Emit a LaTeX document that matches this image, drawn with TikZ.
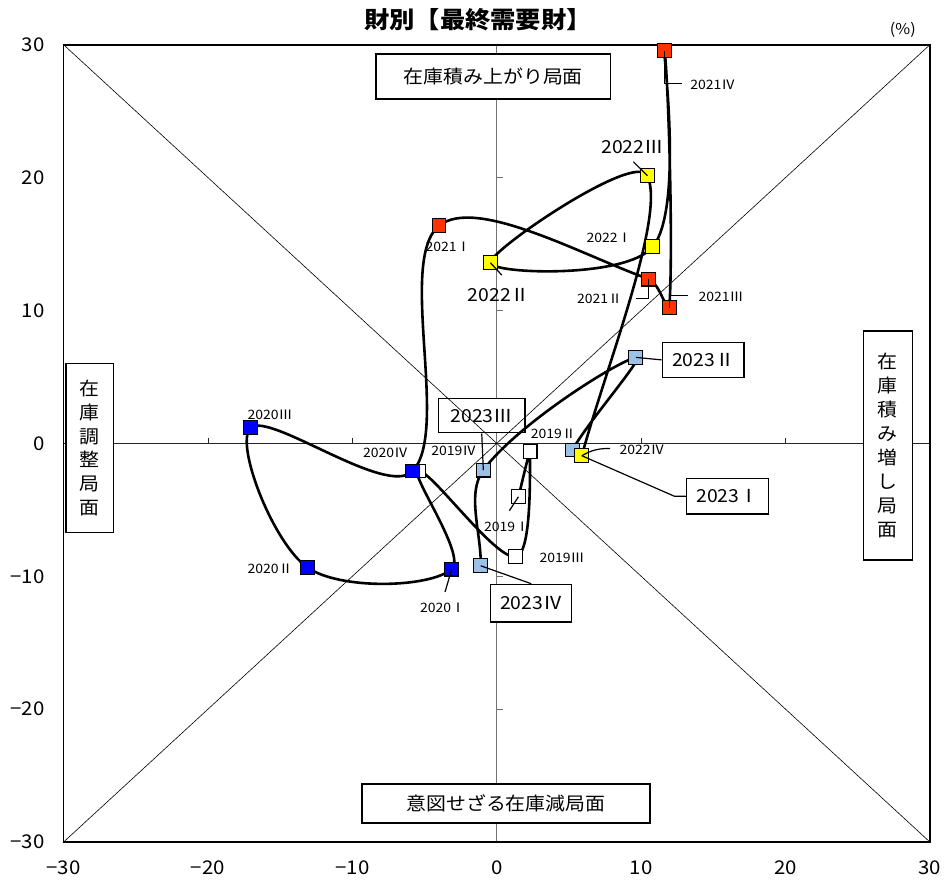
\documentclass[tikz,border=0pt]{standalone}
\usepackage{fontspec}
\setmainfont{Noto Sans CJK JP}[FakeStretch=1.08]
\usetikzlibrary{calc}
\definecolor{c19}{RGB}{255,255,255}
\definecolor{c20}{RGB}{0,0,255}
\definecolor{c21}{RGB}{255,51,0}
\definecolor{c22}{RGB}{255,255,0}
\definecolor{c23}{RGB}{155,194,230}

\begin{document}
\begin{tikzpicture}[x=14.44bp,y=13.29bp,
		sq/.style={draw=black,line width=1.1bp,minimum size=13.8bp,inner sep=0pt},
		tag/.style={inner sep=0pt,font=\fontsize{13}{13}\selectfont},
		bigtag/.style={inner sep=0pt,font=\fontsize{18}{18}\selectfont},
		callout/.style={draw=black,line width=1.4bp,fill=white,inner sep=0pt,font=\fontsize{18}{18}\selectfont},
		phase/.style={draw=black,line width=1.4bp,fill=white,inner sep=0pt,align=center,font=\fontsize{18.5}{24}\selectfont},
		leader/.style={line width=1.2bp},
		curve/.style={line width=2.6bp,line join=round}]
		\useasboundingbox (-34.40,-33.31) rectangle (31.11,33.36);
		
		\draw[black!55,line width=0.9bp] (0,-30) -- (0,30); %y axis
		\draw[black!85,line width=0.8bp] (-30,0) -- (30,0); %x axis
		\foreach \t in {-20,-10,10,20} { \draw[black!85,line width=0.8bp] (\t,0) -- (\t,0.38); } %x ticks
		\foreach \t in {-20,-10,10,20} { \draw[black!55,line width=0.9bp] (0,\t) -- (0.42,\t); } %y ticks
		
		\node[phase,minimum width=234.7bp,minimum height=45bp] (ptop) at (-0.24,27.60) {在庫積み上がり局面}; %top phase
		\node[phase,minimum width=288bp,minimum height=39bp] (pbot) at (0.64,-27.10) {意図せざる在庫減局面}; %bottom phase
		\node[phase,minimum width=47.3bp,minimum height=169.4bp] (pleft) at (-28.19,-0.35) {在\\庫\\調\\整\\局\\面}; %left phase
		\node[phase,minimum width=49bp,minimum height=229bp] (pright) at (27.08,-0.15) {在\\庫\\積\\み\\増\\し\\局\\面}; %right phase
		\node[callout,minimum width=86.7bp,minimum height=34.4bp] (b23c) at (-1.04,2.09) {2023Ⅲ};
		
		\draw[line width=0.6bp] (-30,-30) -- (30,30); %rising diagonal
		\draw[line width=0.6bp] (-30,30) -- (30,-30); %falling diagonal
		\draw[line width=1.8bp] (-30,-30) rectangle (30,30); %frame
		
		\foreach \v in {30,20,10,0,-10,-20,-30} { \node[anchor=east,inner sep=0pt,font=\fontsize{19}{19}\selectfont] (ty\v) at (-31.3,\v) {\ifnum\v<0 −\number-\v\else\v\fi}; }
		\foreach \v in {-30,-20,-10,0,10,20,30} { \node[inner sep=0pt,font=\fontsize{19}{19}\selectfont] (tx\v) at (\v,-31.96) {\ifnum\v<0 −\number-\v\else\v\fi}; }
		\node[inner sep=0pt,font=\fontsize{23.5}{23.5}\selectfont\bfseries] (title) at (-1.30,31.85) {財別【最終需要財】};
		\node[inner sep=0pt,font=\fontsize{15}{15}\selectfont] (unit) at (28.12,31.10) {(\%)};
		
		% quarters, sorted in time
		\coordinate (q19a) at (1.50,-4.02);
		\coordinate (q19b) at (2.31,-0.63);
		\coordinate (q19c) at (1.32,-8.53);
		\coordinate (q19d) at (-5.43,-2.08);
		\coordinate (q20a) at (-3.12,-9.46);
		\coordinate (q20b) at (-13.12,-9.33);
		\coordinate (q20c) at (-17.04,1.17);
		\coordinate (q20d) at (-5.82,-2.08);
		\coordinate (q21a) at (-4.00,16.37);
		\coordinate (q21b) at (10.53,12.36);
		\coordinate (q21c) at (11.95,10.20);
		\coordinate (q21d) at (11.61,29.54);
		\coordinate (q22a) at (10.80,14.79);
		\coordinate (q22b) at (-0.44,13.59);
		\coordinate (q22c) at (10.43,20.14);
		\coordinate (q22d) at (5.89,-0.93);
		\coordinate (q23a) at (5.24,-0.50);
		\coordinate (q23b) at (9.63,6.47);
		\coordinate (q23c) at (-0.93,-2.01);
		\coordinate (q23d) at (-1.11,-9.21);
		
		% smoothed path
		\draw[curve] (q19a) .. controls +(0.27,1.13) and +(0.02,0.46) .. (q19b)
			.. controls +(-0.04,-1.05) and +(1.16,0.22) .. (q19c)
			.. controls +(-1.42,-0.26) and +(0.82,0.17) .. (q19d)
			.. controls +(-0.66,-0.14) and +(1.07,1.01) .. (q20a)
			.. controls +(-1.50,-1.41) and +(2.27,-1.73) .. (q20b)
			.. controls +(-2.37,1.81) and +(-1.15,-1.14) .. (q20c)
			.. controls +(1.28,1.27) and +(-1.76,-2.05) .. (q20d)
			.. controls +(2.59,3.02) and +(-2.90,-2.57) .. (q21a)
			.. controls +(2.55,2.25) and +(-4.57,1.77) .. (q21b)
			.. controls +(0.75,-0.29) and +(-0.04,-0.69) .. (q21c)
			.. controls +(0.31,5.03) and +(0.21,-0.87) .. (q21d)
			.. controls +(-0.17,0.66) and +(2.20,2.90) .. (q22a)
			.. controls +(-1.82,-2.42) and +(0.06,-0.85) .. (q22b)
			.. controls +(-0.06,0.93) and +(-0.81,1.86) .. (q22c)
			.. controls +(1.30,-2.98) and +(1.66,6.63) .. (q22d)
			.. controls +(-0.06,-0.26) and +(-0.11,-0.22) .. (q23a)
			.. controls +(1.14,2.25) and +(0.76,0.19) .. (q23b)
			.. controls +(-1.30,-0.32) and +(2.38,3.48) .. (q23c)
			.. controls +(-1.20,-1.75) and +(0.06,2.40) .. (q23d);
		
		\node[sq,fill=c19] (s19a) at (q19a) {};
		\node[sq,fill=c19] (s19b) at (q19b) {};
		\node[sq,fill=c19] (s19c) at (q19c) {};
		\node[sq,fill=c19] (s19d) at (q19d) {};
		\node[sq,fill=c20] (s20a) at (q20a) {};
		\node[sq,fill=c20] (s20b) at (q20b) {};
		\node[sq,fill=c20] (s20c) at (q20c) {};
		\node[sq,fill=c20] (s20d) at (q20d) {};
		\node[sq,fill=c21] (s21a) at (q21a) {};
		\node[sq,fill=c21] (s21b) at (q21b) {};
		\node[sq,fill=c21] (s21c) at (q21c) {};
		\node[sq,fill=c21] (s21d) at (q21d) {};
		\node[sq,fill=c22] (s22a) at (q22a) {};
		\node[sq,fill=c22] (s22b) at (q22b) {};
		\node[sq,fill=c22] (s22c) at (q22c) {};
		\node[sq,fill=c23] (s23a) at (q23a) {};
		\node[sq,fill=c22] (s22d) at (q22d) {}; % yellow over 2023 I
		\node[sq,fill=c23] (s23b) at (q23b) {};
		\node[sq,fill=c23] (s23c) at (q23c) {};
		\node[sq,fill=c23] (s23d) at (q23d) {};
		
		\node[tag] (t19a) at (0.69,-6.28) {2019Ⅰ};
		\node[tag] (t19b) at (3.92,0.75) {2019Ⅱ};
		\node[tag] (t19c) at (4.52,-8.61) {2019Ⅲ};
		\node[tag] (t19d) at (-2.97,-0.58) {2019Ⅳ};
		\node[tag] (t20a) at (-3.75,-12.37) {2020Ⅰ};
		\node[tag] (t20b) at (-15.70,-9.46) {2020Ⅱ};
		\node[tag] (t20c) at (-15.70,2.18) {2020Ⅲ};
		\node[tag] (t20d) at (-7.70,-0.71) {2020Ⅳ};
		\node[tag] (t21a) at (-3.37,14.79) {2021Ⅰ};
		\node[tag,anchor=east] (t21b) at (8.70,10.91) {2021Ⅱ};
		\node[tag,anchor=west] (t21c) at (13.96,11.03) {2021Ⅲ};
		\node[tag,anchor=west] (t21d) at (13.39,26.96) {2021Ⅳ};
		\node[tag] (t22a) at (7.78,15.45) {2022Ⅰ};
		\node[bigtag] (t22b) at (0.16,11.16) {2022Ⅱ};
		\node[bigtag] (t22c) at (9.40,22.32) {2022Ⅲ};
		\node[tag,anchor=west] (t22d) at (8.49,-0.50) {2022Ⅳ};
		\node[callout,minimum width=81.6bp,minimum height=35.7bp] (b23a) at (15.98,-3.98) {2023Ⅰ};
		\node[callout,minimum width=81.7bp,minimum height=35bp] (b23b) at (14.30,6.28) {2023Ⅱ};
		\node[callout,minimum width=81bp,minimum height=37.7bp] (b23d) at (2.39,-12.03) {2023Ⅳ};
		
		% leader lines
		\coordinate (e19a) at (0.87,-5.07);
		\coordinate (e20a) at (-3.58,-11.18);
		\coordinate (e21b) at (9.65,10.91);
		\coordinate (e21c) at (13.25,11.13);
		\coordinate (e21d) at (12.81,27.09);
		\coordinate (e22b) at (0.35,12.66);
		\coordinate (e22c) at (9.46,21.19);
		\coordinate (e22d) at (7.85,-0.38);
		\draw[leader] (q19a) -- (e19a);
		\draw[leader] (q20a) -- (e20a);
		\draw[leader] (q21b) |- (e21b);
		\draw[leader] (q21c) |- (e21c);
		\draw[leader] (q21d) |- (e21d);
		\draw[leader] (q22b) -- (e22b);
		\draw[leader] (q22c) -- (e22c);
		\draw[leader] (q22d) to[out=30,in=180] (e22d);
		\draw[leader] (b23a.west) -- ++(-0.8,0) -- (q22d);
		\draw[leader] (q23b) -- (b23b.west);
		\draw[leader] (b23c.south) -- (q23c);
		\draw[leader] (q23d) -- (b23d.north);
\end{tikzpicture}
\end{document}
